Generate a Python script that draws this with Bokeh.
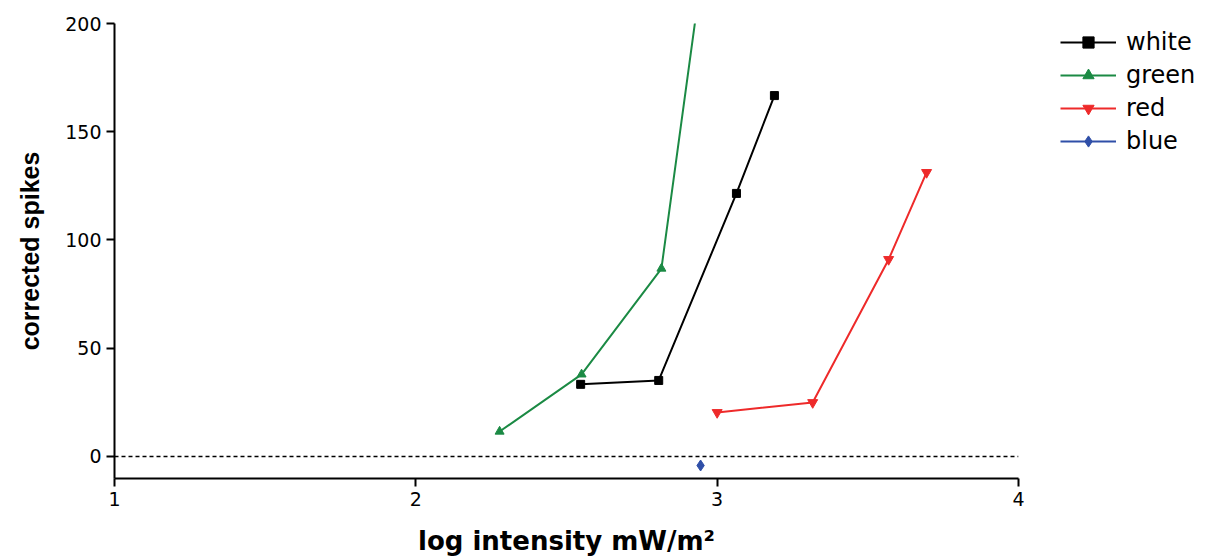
from bokeh.plotting import figure
from bokeh.models import Range1d, Legend, LegendItem, Span, FixedTicker
from bokeh.embed import file_html
from bokeh.resources import INLINE

white_x = [2.547, 2.806, 3.064, 3.19]
white_y = [33.3, 35.1, 121.5, 166.7]
green_x = [2.278, 2.55, 2.815, 2.97]
green_y = [11.5, 37.9, 86.8, 245.0]
red_x = [3.0, 3.317, 3.569, 3.695]
red_y = [20.3, 24.9, 91.0, 131.2]
blue_x = [2.945]
blue_y = [-4.2]

x_ticks = [1, 2, 3, 4]
y_ticks = [0, 50, 100, 150, 200]

FONT = "DejaVu Sans"

p = figure(frame_width=904, frame_height=455, output_backend="svg", toolbar_location=None,
           x_range=Range1d(1, 4), y_range=Range1d(-10.2, 200),
           min_border_left=114, min_border_right=189, min_border_top=23, min_border_bottom=72)
p.outline_line_color = None
p.grid.visible = False
p.background_fill_color = "white"

for ax in (p.xaxis[0], p.yaxis[0]):
    ax.axis_line_width = 2
    ax.axis_line_color = "black"
    ax.major_tick_line_width = 2
    ax.major_tick_out = 8
    ax.major_tick_in = 0
    ax.minor_tick_line_color = None
    ax.major_label_text_font = FONT
    ax.major_label_text_font_size = "19px"
    ax.major_label_text_color = "black"
    ax.axis_label_text_font = "Liberation Sans"
    ax.axis_label_text_font_style = "bold"
    ax.axis_label_text_color = "black"

p.xaxis.ticker = FixedTicker(ticks=x_ticks)
p.yaxis.ticker = FixedTicker(ticks=y_ticks)
p.xaxis.axis_label = "log intensity mW/m²"
p.xaxis.axis_label_text_font = "DejaVu Sans"
p.xaxis.axis_label_text_font_size = "26px"
p.xaxis.axis_label_standoff = 17
p.yaxis.axis_label = "corrected spikes"
p.yaxis.axis_label_text_font_size = "25px"
p.yaxis.axis_label_standoff = 18

p.add_layout(Span(location=0, dimension="width", line_dash="4 3", line_width=1.5, line_color="black"))

series = [
    ("white", white_x, white_y, "black", "square", 8),
    ("green", green_x, green_y, "#1B8A44", "triangle", 9),
    ("red", red_x, red_y, "#EE2A2A", "inverted_triangle", 10),
    ("blue", blue_x, blue_y, "#2F4FA8", "diamond", 11),
]
items = []
for name, xs, ys, col, mk, sz in series:
    l = p.line(xs, ys, line_color=col, line_width=2)
    s = p.scatter(xs, ys, marker=mk, size=sz, fill_color=col, line_color=col)
    items.append(LegendItem(label=name, renderers=[l, s]))

legend = Legend(items=items, location=(42, 323))
legend.label_text_font = FONT
legend.label_text_font_size = "24px"
legend.label_text_color = "black"
legend.glyph_width = 56
legend.glyph_height = 28
legend.label_height = 28
legend.spacing = 5
legend.padding = 0
legend.margin = 0
legend.border_line_color = None
legend.background_fill_alpha = 0
legend.label_standoff = 10
p.add_layout(legend, "right")

open("out.html", "w").write(file_html(p, INLINE))
